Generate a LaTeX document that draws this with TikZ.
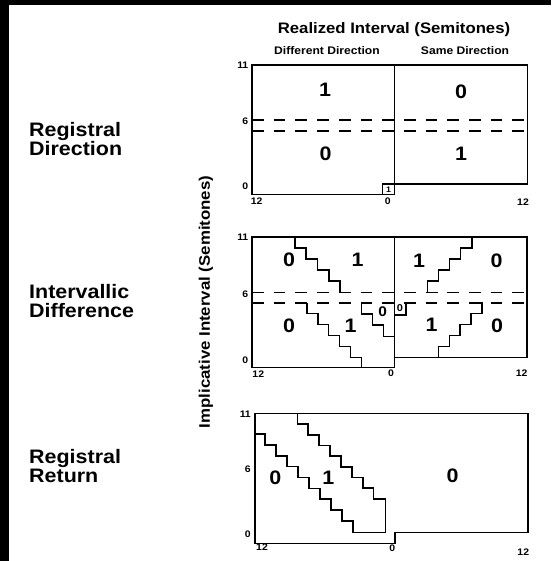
\documentclass[tikz,border=0pt]{standalone}
\usepackage{fontspec}
\setmainfont{Liberation Sans}[FakeStretch=1.1]
\begin{document}
\begin{tikzpicture}[x=1pt, y=-1pt,
    frame/.style={line width=1.6pt, line join=miter},
    gridline/.style={line width=1.6pt, dash pattern=on 11.7pt off 10pt},
    stair/.style={line width=1.6pt},
    digit/.style={font=\bfseries\fontsize{19.5}{19.5}\selectfont, inner sep=0pt},
    tick/.style={font=\bfseries\fontsize{9.5}{9.5}\selectfont, inner sep=0pt},
    catlabel/.style={font=\bfseries\fontsize{19.5}{19.5}\selectfont, align=left, anchor=west, inner sep=0pt}]
    \useasboundingbox (0,0) rectangle (551,561);
    \fill[black] (0,0) rectangle (551,5);
    \fill[black] (0,0) rectangle (9,561);
    % headings
    \node[font=\bfseries\fontsize{15.2}{15.2}\selectfont, inner sep=0pt] (realized) at (394,30) {Realized Interval (Semitones)};
    \node[font=\bfseries\fontsize{11}{11}\selectfont, inner sep=0pt] (diffdir) at (327,50.5) {Different Direction};
    \node[font=\bfseries\fontsize{11}{11}\selectfont, inner sep=0pt] (samedir) at (465,50.5) {Same Direction};
    \node[font=\bfseries\fontsize{15.3}{15.3}\selectfont, inner sep=0pt, rotate=90] (implicative) at (206,302) {Implicative Interval (Semitones)};
    \node[catlabel] (regdir) at (29,139) {Registral\\Direction};
    \node[catlabel] (intdiff) at (29,301) {Intervallic\\Difference};
    \node[catlabel] (regret) at (29,466) {Registral\\Return};
    % registral direction
    \begin{scope}[shift={(252,65)}]
        \draw[frame] (0,0) rectangle (142.5,129.5);
        \draw[frame] (142.5,0) -- (275.5,0) -- (275.5,119) -- (142.5,119);
        \draw[frame] (130.5,129.5) -- (130.5,119) -- (142.5,119);
        \draw[gridline] (0,55.3) -- (275.5,55.3);
        \draw[gridline] (0,65.8) -- (275.5,65.8);
        \node[digit] (rd-ul) at (73,25) {1};
        \node[digit] (rd-ur) at (209,26.7) {0};
        \node[digit] (rd-ll) at (73.7,89) {0};
        \node[digit] (rd-lr) at (209,89) {1};
        \node[font=\bfseries\fontsize{8}{8}\selectfont, inner sep=0pt] (rd-unison) at (136.5,124.3) {1};
        \node[tick, anchor=east] (rd-y11) at (-3.5,0) {11};
        \node[tick, anchor=east] (rd-y6) at (-3.5,56) {6};
        \node[tick, anchor=east] (rd-y0) at (-3.5,121.7) {0};
        \node[tick] (rd-x12l) at (4.7,136) {12};
        \node[tick] (rd-x0) at (135.7,136) {0};
        \node[tick] (rd-x12r) at (271,137.3) {12};
    \end{scope}
    % intervallic difference
    \begin{scope}[shift={(252,237)}]
        \draw[frame] (0,0) rectangle (142.5,130.5);
        \draw[frame] (142.5,0) -- (274.7,0) -- (274.7,120.5) -- (142.5,120.5);
        \draw[gridline] (0,55.3) -- (274.7,55.3);
        \draw[gridline] (0,66) -- (274.7,66);
        \draw[stair] (43,0) -- (43,11) -- (54.25,11) -- (54.25,22) -- (65.5,22) -- (65.5,33) -- (76.75,33) -- (76.75,44) -- (88,44) -- (88,55.3) -- (98.5,55.3);
        \draw[stair] (54.7,66) -- (54.7,76.5) -- (65.7,76.5) -- (65.7,87.5) -- (76.5,87.5) -- (76.5,98.5) -- (87.5,98.5) -- (87.5,109.5) -- (98.5,109.5) -- (98.5,120.5) -- (109.5,120.5) -- (109.5,130.5);
        \draw[stair] (109.5,66) -- (109.5,77) -- (120.5,77) -- (120.5,88) -- (131.5,88) -- (131.5,99.5) -- (142.5,99.5);
        \draw[stair] (219.7,0) -- (219.7,11) -- (208.6,11) -- (208.6,22) -- (197.5,22) -- (197.5,33) -- (186.4,33) -- (186.4,44.2) -- (175.3,44.2) -- (175.3,55.3) -- (186,55.3);
        \draw[stair] (219,66) -- (229.7,66) -- (229.7,76.5) -- (219,76.5) -- (219,87.5) -- (208,87.5) -- (208,98.5) -- (197.3,98.5) -- (197.3,109.5) -- (186.3,109.5) -- (186.3,120.5);
        \draw[stair] (142.5,78) -- (153.7,78) -- (153.7,66) -- (164,66);
        \node[digit] (id-ul0) at (37,23) {0};
        \node[digit] (id-ul1) at (105.7,23) {1};
        \node[digit] (id-ur1) at (167,24) {1};
        \node[digit] (id-ur0) at (244.7,24) {0};
        \node[digit] (id-ll0) at (37,89) {0};
        \node[digit] (id-ll1) at (98.7,89) {1};
        \node[font=\bfseries\fontsize{14}{14}\selectfont, inner sep=0pt] (id-lsmall) at (130.7,74.7) {0};
        \node[font=\bfseries\fontsize{10}{10}\selectfont, inner sep=0pt] (id-rsmall) at (148,71) {0};
        \node[digit] (id-lr1) at (179.7,87.3) {1};
        \node[digit] (id-lr0) at (245,88.5) {0};
        \node[tick, anchor=east] (id-y11) at (-3.5,0) {11};
        \node[tick, anchor=east] (id-y6) at (-3.5,57) {6};
        \node[tick, anchor=east] (id-y0) at (-3.5,123.7) {0};
        \node[tick] (id-x12l) at (6.3,137.3) {12};
        \node[tick] (id-x0) at (139,136.3) {0};
        \node[tick] (id-x12r) at (269.7,136.3) {12};
    \end{scope}
    % registral return
    \begin{scope}[shift={(255,413.3)}]
        \draw[frame] (0,0) -- (273,0) -- (273,119) -- (140,119) -- (140,130) -- (0,130) -- cycle;
        \draw[stair] (42.3,0) -- (42.3,10.7) -- (53.2,10.7) -- (53.2,21.4) -- (64.1,21.4) -- (64.1,32.1) -- (75,32.1) -- (75,42.8) -- (85.9,42.8) -- (85.9,53.5) -- (96.8,53.5) -- (96.8,64.2) -- (107.7,64.2) -- (107.7,74.9) -- (118.6,74.9) -- (118.6,85.6) -- (130.5,85.6) -- (130.5,119)
            -- (98,119) -- (98,107.55) -- (87,107.55) -- (87,96.7) -- (76,96.7) -- (76,85.85) -- (65,85.85) -- (65,75) -- (54,75) -- (54,64.15) -- (43,64.15) -- (43,53.3) -- (32,53.3) -- (32,42.45) -- (21,42.45) -- (21,31.6) -- (10,31.6) -- (10,20.75) -- (0,20.75);
        \node[digit] (rr-l0) at (20.3,64.2) {0};
        \node[digit] (rr-m1) at (73.3,64) {1};
        \node[digit] (rr-r0) at (197.7,62.7) {0};
        \node[tick, anchor=east] (rr-y11) at (-4,1) {11};
        \node[tick, anchor=east] (rr-y6) at (-4,56) {6};
        \node[tick, anchor=east] (rr-y0) at (-4,120.7) {0};
        \node[tick] (rr-x12l) at (7,134.2) {12};
        \node[tick] (rr-x0) at (137.3,134.7) {0};
        \node[tick] (rr-x12r) at (268.3,138.4) {12};
    \end{scope}
\end{tikzpicture}
\end{document}
